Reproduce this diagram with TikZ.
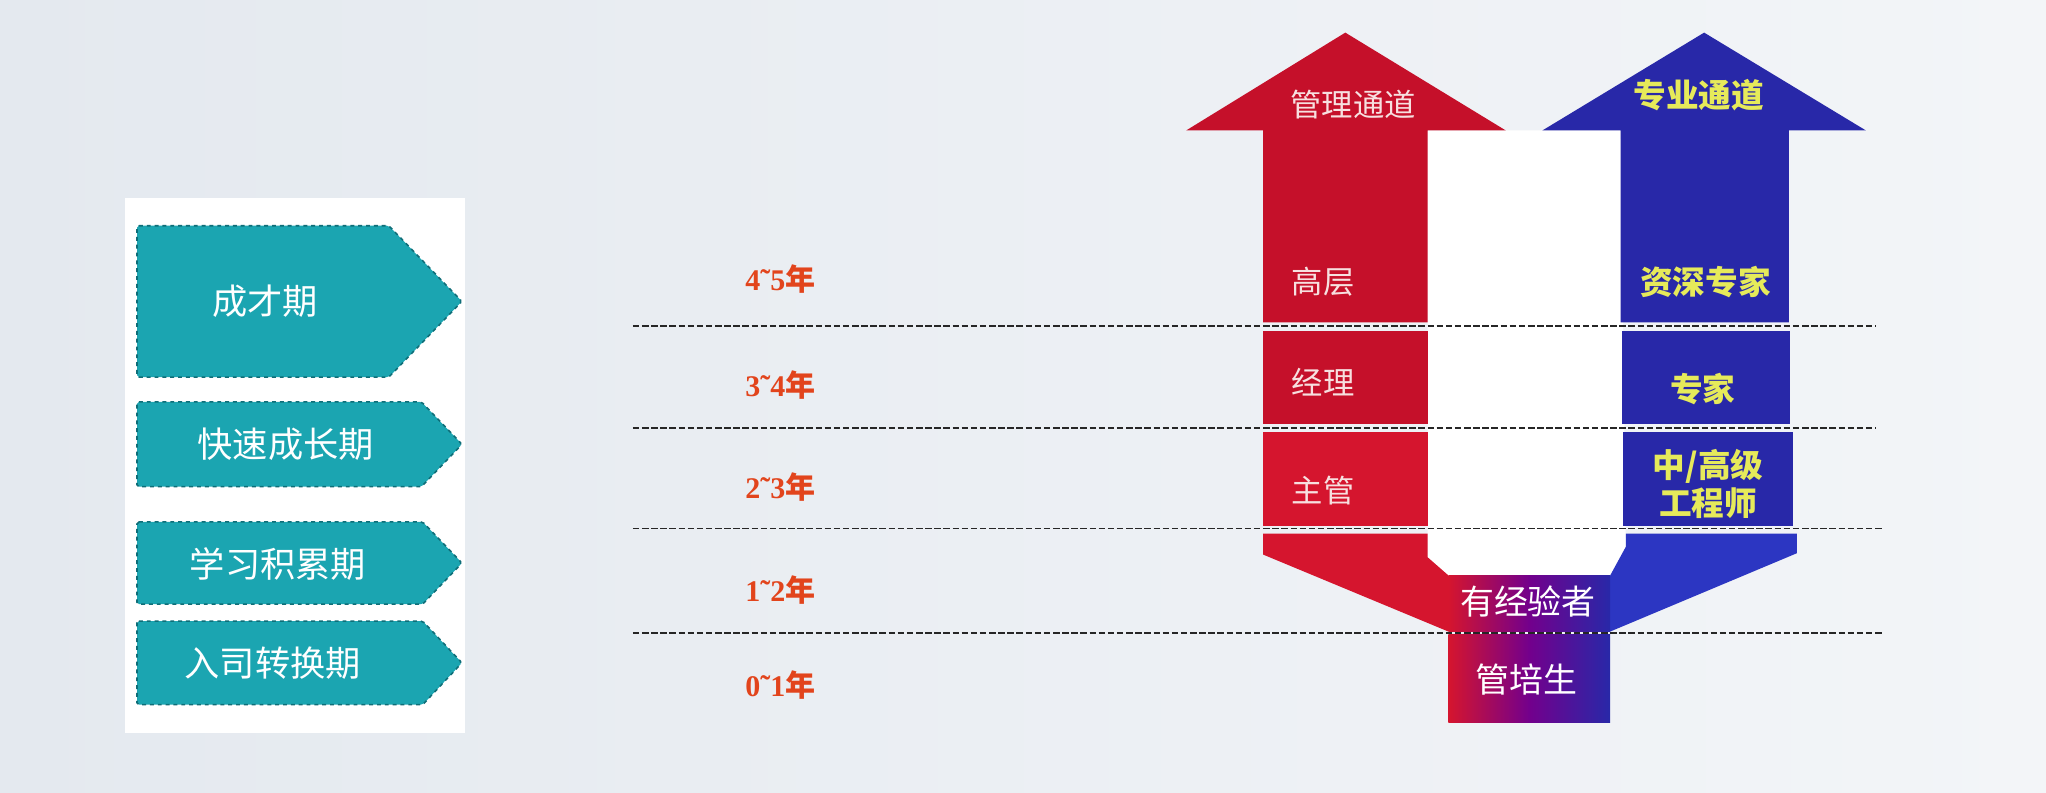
\documentclass[tikz,border=0pt]{standalone}
\usepackage{fontspec}
\setmainfont{Liberation Serif}
\newfontfamily\cjk{Noto Sans CJK SC}
\definecolor{bgl}{HTML}{E4E9EF}
\definecolor{bgr}{HTML}{F3F5F8}
\definecolor{tealf}{HTML}{1BA5B1}
\definecolor{tealb}{HTML}{0F6E78}
\definecolor{redA}{HTML}{C5102A}
\definecolor{redB}{HTML}{D5152E}
\definecolor{bluA}{HTML}{2828A8}
\definecolor{bluB}{HTML}{2C36C2}
\definecolor{yrc}{HTML}{E2441C}
\definecolor{ylw}{HTML}{E6EA5A}
\definecolor{pinkw}{HTML}{F7E0E0}
\tikzset{
  stage/.style={fill=tealf, draw=tealb, dashed, line width=1.2pt, rounded corners=1.5pt},
  stagetxt/.style={text=white, font=\cjk\fontsize{27}{30}\selectfont, inner sep=0pt},
  yearlbl/.style={text=yrc, font=\bfseries\fontsize{23}{26}\selectfont, inner sep=0pt},
  level/.style={draw=black!85, line width=1.3pt, dash pattern=on 5pt off 2pt},
  redtxt/.style={text=pinkw, font=\cjk\fontsize{24}{28}\selectfont, inner sep=0pt},
  bluetxt/.style={text=ylw, font=\cjk\bfseries\fontsize{25}{29}\selectfont, inner sep=0pt, align=center},
  midtxt/.style={text=white, font=\cjk\fontsize{26}{30}\selectfont, inner sep=0pt},
}
\begin{document}
\begin{tikzpicture}[x=1pt, y=-1pt]
\useasboundingbox (0,0) rectangle (1568,607);
% background
\shade[left color=bgl, right color=bgr] (0,0) rectangle (1568,607);
% white panel
\fill[white] (96,152) rectangle (356,562);
% stage chevrons
\draw[stage] (105,173) -- (298,173) -- (354,231) -- (298,289) -- (105,289) -- cycle;
\draw[stage] (105,308) -- (323,308) -- (354,340.5) -- (323,373) -- (105,373) -- cycle;
\draw[stage] (105,400) -- (324,400) -- (354,431.5) -- (324,463) -- (105,463) -- cycle;
\draw[stage] (105,476) -- (324,476) -- (354,508) -- (324,540) -- (105,540) -- cycle;
\node[stagetxt] (s1) at (203,231) {成才期};
\node[stagetxt] (s2) at (219,340.5) {快速成长期};
\node[stagetxt] (s3) at (213,432) {学习积累期};
\node[stagetxt] (s4) at (209,508) {入司转换期};
% white area between arrows
\fill[white] (1094,100) -- (1242,100) -- (1246,419) -- (1234,441) -- (1110,441) -- (1094,427) -- cycle;
% red arrow (management)
\fill[redA] (909,100) -- (1031,25) -- (1154,100) -- (1094,100) -- (1094,247) -- (968,247) -- (968,100) -- cycle;
\fill[redA] (968,254) rectangle (1094,325);
\fill[redB] (968,331) rectangle (1094,403);
\fill[redB] (968,409) -- (1094,409) -- (1094,427) -- (1110,441) -- (1110,484) -- (968,425) -- cycle;
% blue arrow (professional)
\fill[bluA] (1182,100) -- (1306,25) -- (1430,100) -- (1371,100) -- (1371,247) -- (1242,247) -- (1242,100) -- cycle;
\fill[bluA] (1243,254) rectangle (1372,325);
\fill[bluA] (1244,331) rectangle (1374,403);
\fill[bluB] (1246,409) -- (1377,409) -- (1377,424) -- (1234,484) -- (1234,441) -- (1246,419) -- cycle;
% gradient boxes
\shade[left color=redB, right color=bluA, middle color=red!45!blue] (1110,441) rectangle (1234,484);
\shade[left color=redB, right color=bluA, middle color=red!45!blue] (1110,486) rectangle (1234,554);
% level lines
\coordinate (l1a) at (485,250); \coordinate (l1b) at (1438,250);
\coordinate (l2a) at (485,328); \coordinate (l2b) at (1438,328);
\coordinate (l3a) at (485,405); \coordinate (l3b) at (1442,405);
\coordinate (l4a) at (485,485); \coordinate (l4b) at (1442,485);
\draw[level] (l1a) -- (l1b);
\draw[level] (l2a) -- (l2b);
\draw[level] (l3a) -- (l3b);
\draw[level] (l4a) -- (l4b);
% year labels
\node[yearlbl] (y45) at (598,214) {4˜5{\cjk 年}};
\node[yearlbl] (y34) at (598,295) {3˜4{\cjk 年}};
\node[yearlbl] (y23) at (598,373) {2˜3{\cjk 年}};
\node[yearlbl] (y12) at (598,452) {1˜2{\cjk 年}};
\node[yearlbl] (y01) at (598,525) {0˜1{\cjk 年}};
% red arrow texts
\node[redtxt] (mg) at (1037,80) {管理通道};
\node[redtxt] (gc) at (1014,216) {高层};
\node[redtxt] (jl) at (1014,293) {经理};
\node[redtxt] (zg) at (1014,376) {主管};
% blue arrow texts
\node[bluetxt] (zy) at (1302,73) {专业通道};
\node[bluetxt] (zs) at (1307,216) {资深专家};
\node[bluetxt] (zj) at (1305,298) {专家};
\node[bluetxt] (gcs) at (1309,371) {中/高级\\工程师};
% centre texts
\node[midtxt] (yjy) at (1171,461) {有经验者};
\node[midtxt] (gps) at (1170,521) {管培生};
\end{tikzpicture}
\end{document}
